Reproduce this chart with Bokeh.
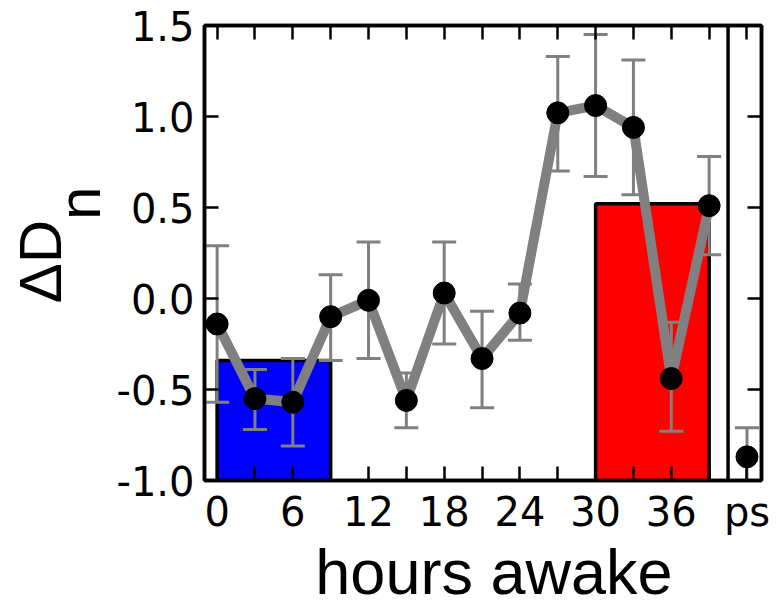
import math
from bokeh.plotting import figure
from bokeh.models import (Range1d, FixedTicker, LinearAxis, Span, Label,
                          PrintfTickFormatter)
from bokeh.embed import file_html
from bokeh.resources import INLINE

# ---------------- data ----------------
hours = [0, 3, 6, 9, 12, 15, 18, 21, 24, 27, 30, 33, 36, 39]
delta_dn = [-0.14, -0.55, -0.57, -0.10, -0.01, -0.56, 0.03, -0.33, -0.08,
            1.02, 1.06, 0.94, -0.44, 0.51]
err_upper = [0.29, -0.39, -0.33, 0.13, 0.31, -0.41, 0.31, -0.07, 0.08,
             1.33, 1.45, 1.31, -0.13, 0.78]
err_lower = [-0.57, -0.72, -0.81, -0.34, -0.33, -0.71, -0.25, -0.60, -0.23,
             0.70, 0.67, 0.57, -0.73, 0.24]

ps_x = [42]
ps_value = [-0.87]
ps_upper = [-0.71]
ps_lower = [-1.03]

bar_left = [0, 30]
bar_right = [9, 39]
bar_top = [-0.34, 0.52]
bar_colors = ["#0000ff", "#ff0000"]

x_major_ticks = [0, 6, 12, 18, 24, 30, 36, 42]
x_minor_ticks = [3, 9, 15, 21, 27, 33, 39]
x_all_ticks = [0, 3, 6, 9, 12, 15, 18, 21, 24, 27, 30, 33, 36, 39, 42]
x_overrides = {42: "ps"}
y_ticks = [-1.0, -0.5, 0.0, 0.5, 1.0, 1.5]
ps_separator = 40.5

TICK_FONT = "DejaVu Sans"
LABEL_FONT = "Liberation Sans"

# ---------------- figure ----------------
p = figure(width=777, height=611, x_range=Range1d(-1, 43.15), y_range=Range1d(-1, 1.5),
           output_backend="svg", toolbar_location=None,
           min_border_left=204, min_border_right=16, min_border_top=25,
           min_border_bottom=131)
p.xgrid.visible = False
p.ygrid.visible = False
p.outline_line_color = "black"
p.outline_line_width = 3.5
p.background_fill_color = "white"
p.border_fill_color = "white"

def style_axis(ax):
    ax.axis_line_width = 3.5
    ax.major_tick_in = 14
    ax.major_tick_out = 0
    ax.minor_tick_in = 14
    ax.minor_tick_out = 0
    ax.major_tick_line_width = 2.5
    ax.minor_tick_line_width = 2.5
    ax.major_label_text_font = TICK_FONT
    ax.major_label_text_font_size = "40px"
    ax.major_label_text_color = "black"
    ax.major_label_standoff = 8

# bottom axis
xa = p.xaxis[0]
xa.ticker = FixedTicker(ticks=x_major_ticks, minor_ticks=x_minor_ticks)
xa.major_label_overrides = x_overrides
style_axis(xa)

# left axis
ya = p.yaxis[0]
ya.ticker = FixedTicker(ticks=y_ticks, minor_ticks=[])
ya.formatter = PrintfTickFormatter(format="%.1f")
style_axis(ya)
ya.major_label_standoff = 10

# top axis (ticks only)
top = LinearAxis(ticker=FixedTicker(ticks=[], minor_ticks=x_all_ticks))
style_axis(top)
p.add_layout(top, "above")

# right axis (ticks only)
right = LinearAxis(ticker=FixedTicker(ticks=[], minor_ticks=y_ticks))
style_axis(right)
p.add_layout(right, "right")

# bars
p.quad(left=bar_left, right=bar_right, bottom=-1, top=bar_top,
       fill_color=bar_colors, line_color="black", line_width=3.5)

# separator before ps panel
p.add_layout(Span(location=ps_separator, dimension="height",
                  line_color="black", line_width=3.5))

# error bars
all_x = hours + ps_x
all_up = err_upper + ps_upper
all_lo = err_lower + ps_lower
p.segment(x0=all_x, y0=all_lo, x1=all_x, y1=all_up, line_color="#808080", line_width=3)
p.scatter(x=all_x, y=all_up, marker="dash", size=24, line_color="#808080", line_width=3)
p.scatter(x=all_x, y=all_lo, marker="dash", size=24, line_color="#808080", line_width=3)

# line and markers
p.line(hours, delta_dn, line_color="#808080", line_width=10, line_join="round")
p.scatter(hours, delta_dn, size=22, fill_color="black", line_color="black")
p.scatter(ps_x, ps_value, size=22, fill_color="black", line_color="black")

# axis labels as text, placed in the side panels (so they are not clipped)
p.add_layout(Label(x=21.94, y=-1.50,
                   text="hours awake", text_font=LABEL_FONT, text_font_size="63px",
                   text_align="center", text_baseline="middle", text_color="black"),
             "below")
p.add_layout(Label(x=-12.42, y=0.615,
                   text="ΔD\u00a0\u00a0\nn", text_font=LABEL_FONT, text_font_size="60px",
                   text_line_height=0.58,
                   angle=math.pi / 2, text_align="right", text_baseline="middle",
                   text_color="black"), "left")

open("out.html", "w").write(file_html(p, INLINE))
